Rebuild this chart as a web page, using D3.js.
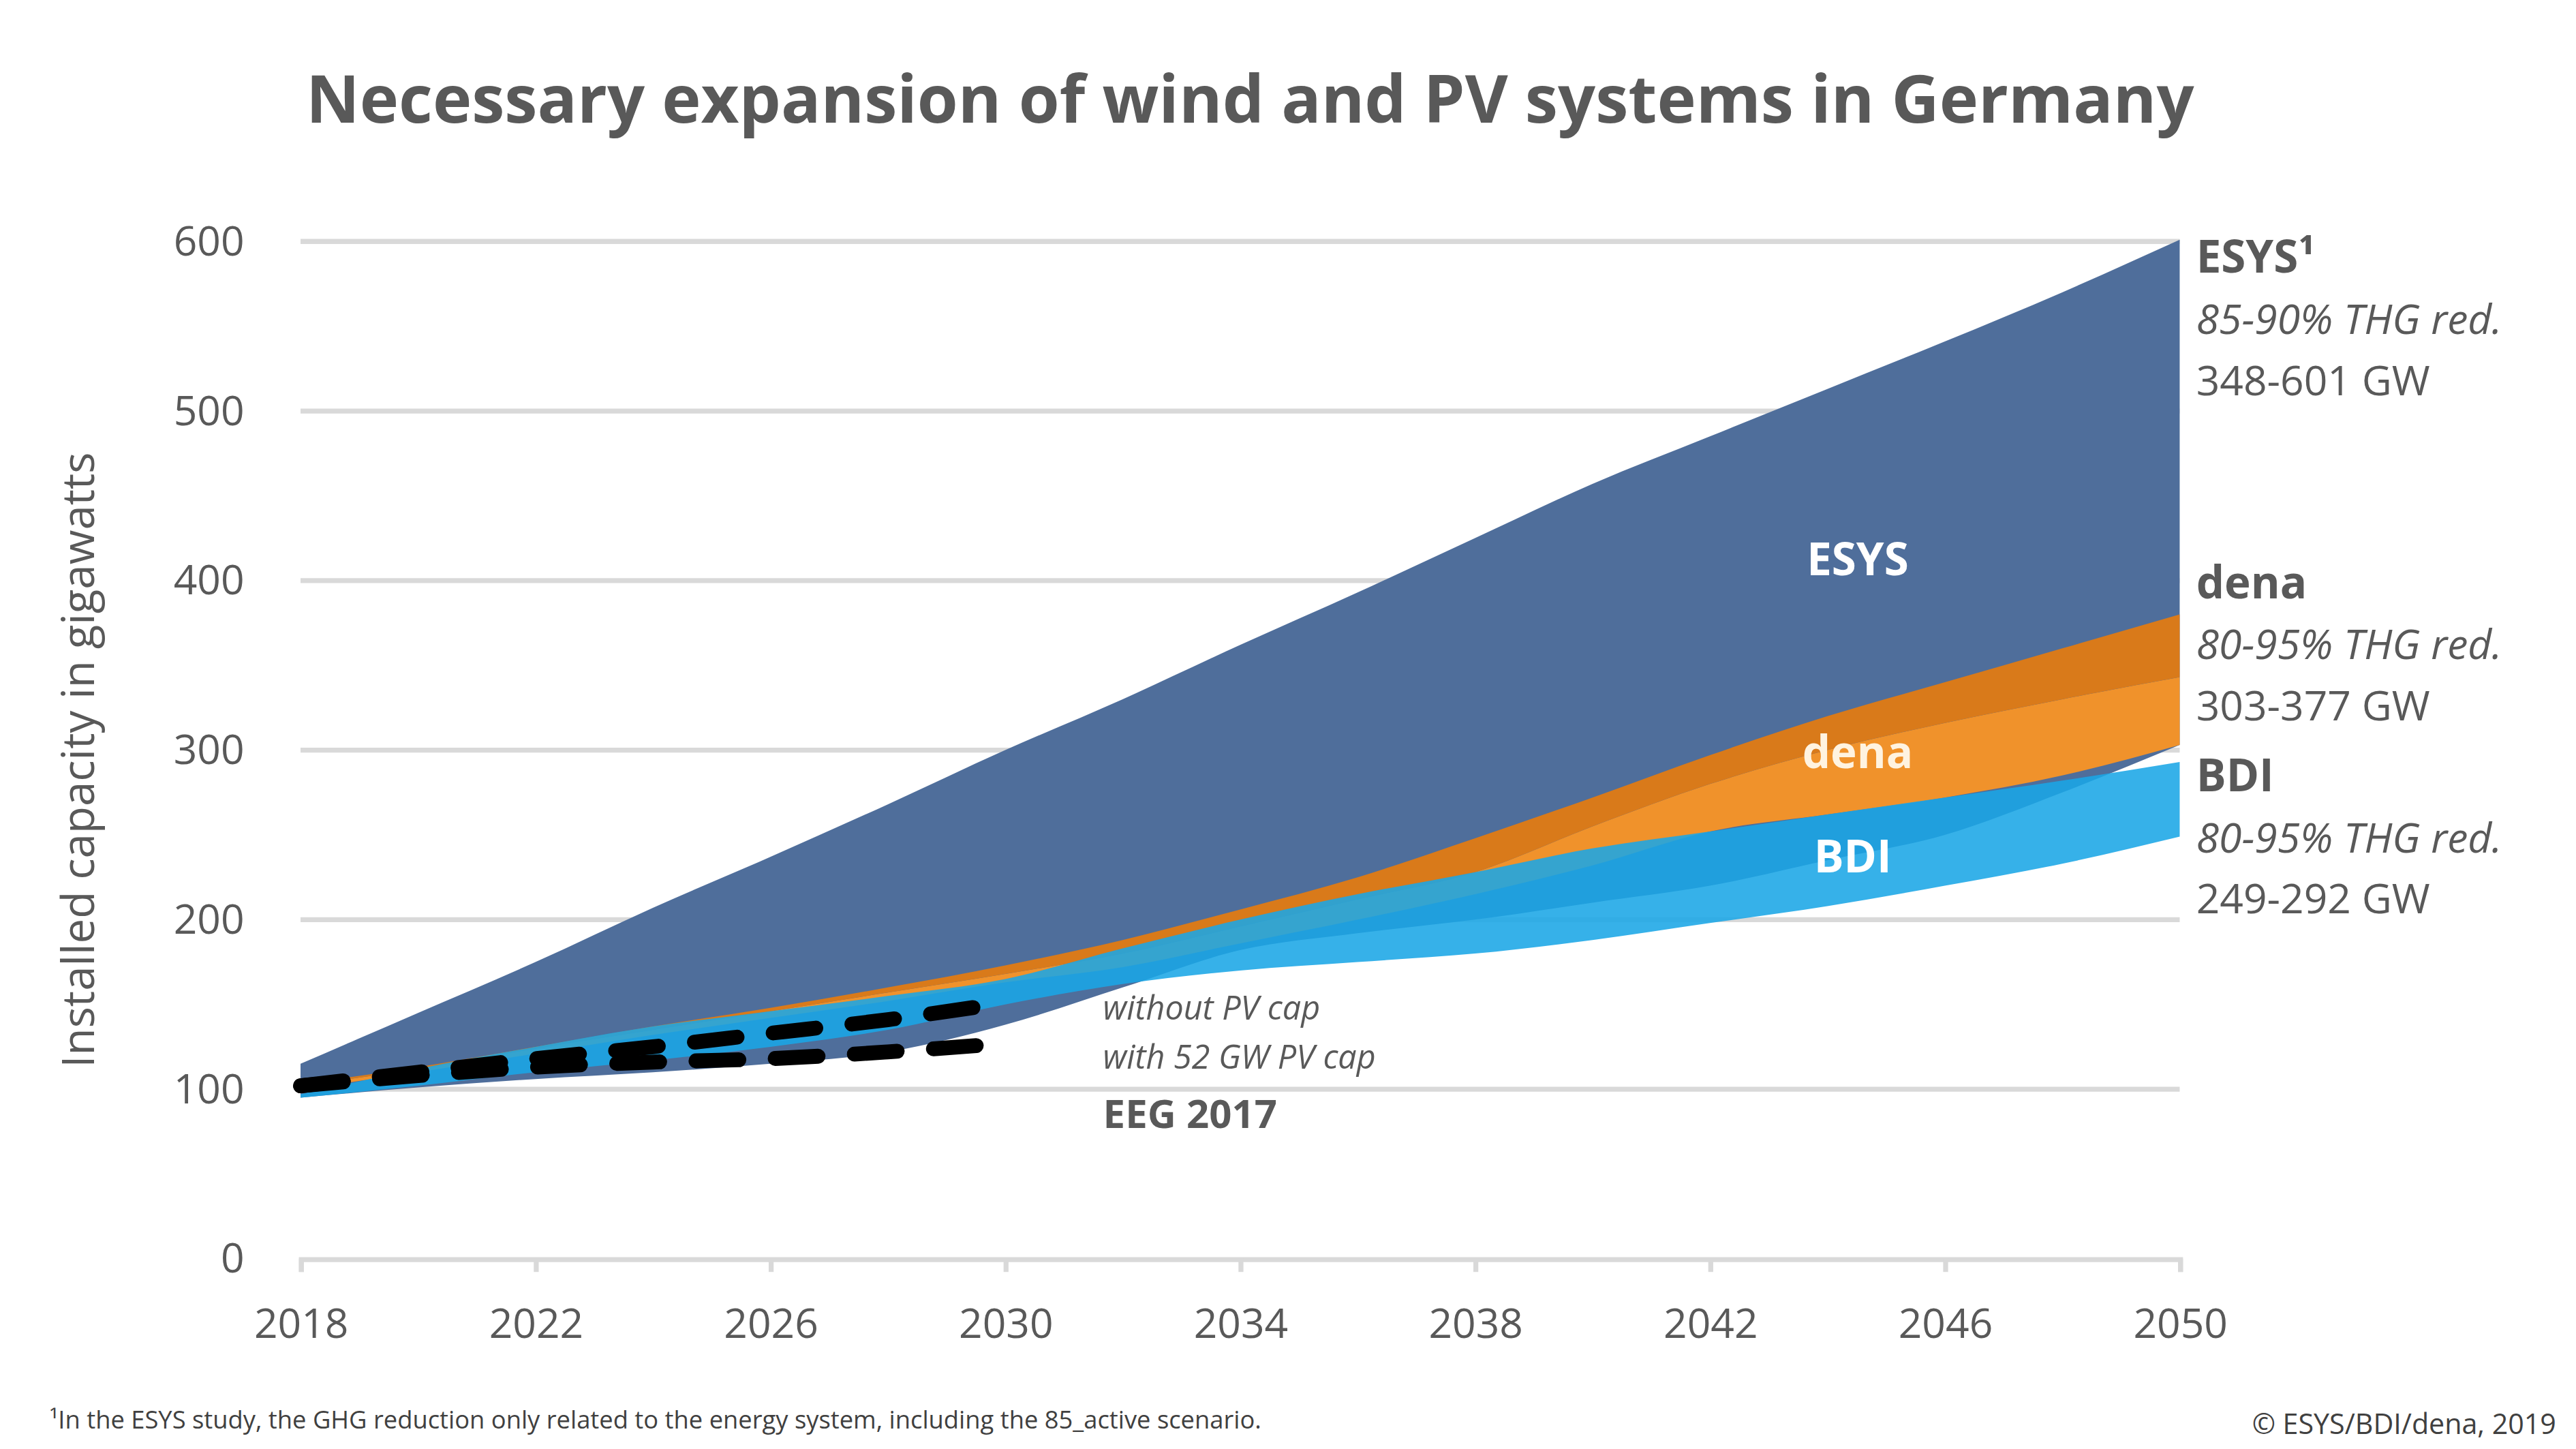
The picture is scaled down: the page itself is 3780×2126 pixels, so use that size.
<!DOCTYPE html>
<html><head><meta charset="utf-8">
<script src="https://cdn.jsdelivr.net/npm/d3@7"></script>
<style>body{margin:0;background:#fff}text{font-family:"Open Sans",sans-serif;fill:#595959}</style>
</head><body><svg id="c"></svg>
<script>
var years = [2018,2020,2022,2024,2026,2028,2030,2032,2034,2036,2038,2040,2042,2044,2046,2048,2050];
var esysHigh = [115,145,175,207,237,268,300,330,362,393,425,457,485,513,541,570,601];
var esysLow  = [95,101,106,110,115,122,138,160,182,192,200,210,220,235,250,275,303];
var bdiHigh  = [97,112,125,137,146,155,165,183,200,215,228,242,252,262,272,282,293];
var bdiLow   = [95,102,110,117,125,135,150,162,170,175,180,188,198,208,220,233,249];
var denaHigh = [103,113,125,137,148,160,173,188,206,225,248,272,297,320,340,360,380];
var denaMid  = [102,112,124,135,146,157,168,180,196,212,228,255,280,300,316,330,343];
var denaLow  = [100,110,121,132,142,152,163,172,186,200,215,232,252,262,272,285,303];
var eegYears = [2018,2020,2022,2024,2026,2028,2030];
var noCap    = [102,110,118,125,133,141,151];
var withCap  = [102,108,113,116,118,122,127];
var yTicks = [0,100,200,300,400,500,600];
var xTicks = [2018,2022,2026,2030,2034,2038,2042,2046,2050];

var W = 1560, H = 877;
var svg = d3.select("#c").attr("width", 3780).attr("height", 2126).attr("viewBox", "0 0 " + W + " " + H);
var x = d3.scaleLinear().domain([2018, 2050]).range([182, 1320]);
var y = d3.scaleLinear().domain([0, 600]).range([762, 146]);

svg.append("text").attr("x", 757).attr("y", 74).attr("text-anchor", "middle")
  .style("font-size", "40px").style("font-weight", "bold")
  .text("Necessary expansion of wind and PV systems in Germany");

// grid
svg.selectAll(".grid").data(yTicks.slice(1)).enter().append("line")
  .attr("x1", 182).attr("x2", 1320).attr("y1", d => y(d)).attr("y2", d => y(d))
  .style("stroke", "#d9d9d9").style("stroke-width", 3);

function band(lo, hi, col, op) {
  var a = d3.area().x((d, i) => x(years[i])).y0((d, i) => y(lo[i])).y1(d => y(d)).curve(d3.curveMonotoneX);
  svg.append("path").datum(hi).attr("d", a).style("fill", col).style("opacity", op);
}
band(esysLow, esysHigh, "#4f6e9b", 1);
band(denaLow, denaMid, "#f0922b", 1);
band(denaMid, denaHigh, "#d97a1a", 1);
band(bdiLow, bdiHigh, "#1aa6e6", 0.88);

function dash(vals) {
  var l = d3.line().x((d, i) => x(eegYears[i])).y(d => y(d)).curve(d3.curveMonotoneX);
  svg.append("path").datum(vals).attr("d", l).style("fill", "none").style("stroke", "#000")
    .style("stroke-width", 9).style("stroke-dasharray", "26,22").style("stroke-linecap", "round");
}
dash(noCap); dash(withCap);

// axes
var yAxis = svg.append("g").attr("transform", "translate(182,0)")
  .call(d3.axisLeft(y).tickValues(yTicks).tickSize(0).tickPadding(34));
yAxis.select(".domain").remove();
yAxis.selectAll("text").style("font-size", "25px");

var xAxis = svg.append("g").attr("transform", "translate(0,762)")
  .call(d3.axisBottom(x).tickValues(xTicks).tickFormat(d3.format("d")).tickSize(8).tickPadding(22));
xAxis.select(".domain").style("stroke", "#d9d9d9").style("stroke-width", 3);
xAxis.selectAll("line").style("stroke", "#d9d9d9").style("stroke-width", 3);
xAxis.selectAll("text").style("font-size", "25px");

svg.append("text").attr("transform", "translate(57,460) rotate(-90)").attr("text-anchor", "middle")
  .style("font-size", "27px").text("Installed capacity in gigawatts");

// inner labels
function lab(t, xx, yy, col) {
  svg.append("text").attr("x", xx).attr("y", yy).attr("text-anchor", "middle")
    .style("font-size", "27px").style("font-weight", "bold").style("fill", col).text(t);
}
lab("ESYS", 1125, 348, "#fff");
lab("dena", 1125, 465, "#fff3e0");
lab("BDI", 1122, 528, "#fff");

function side(lines, yy) {
  lines.forEach(function (l, i) {
    svg.append("text").attr("x", 1330).attr("y", yy + i * 37)
      .style("font-size", i == 0 ? "27px" : "25px").style("font-weight", i == 0 ? "bold" : "normal")
      .style("font-style", i == 1 ? "italic" : "normal").text(l);
  });
}
side(["ESYS\u00b9", "85-90% THG red.", "348-601 GW"], 165);
side(["dena", "80-95% THG red.", "303-377 GW"], 362);
side(["BDI", "80-95% THG red.", "249-292 GW"], 479);

svg.append("text").attr("x", 668).attr("y", 617).style("font-size", "20px").style("font-style", "italic").text("without PV cap");
svg.append("text").attr("x", 668).attr("y", 647).style("font-size", "20px").style("font-style", "italic").text("with 52 GW PV cap");
svg.append("text").attr("x", 668).attr("y", 683).style("font-size", "24px").style("font-weight", "bold").text("EEG 2017");

svg.append("text").attr("x", 30).attr("y", 865).style("font-size", "15px").style("fill", "#404040")
  .text("\u00b9In the ESYS study, the GHG reduction only related to the energy system, including the 85_active scenario.");
svg.append("text").attr("x", 1548).attr("y", 868).attr("text-anchor", "end")
  .style("font-size", "17px").style("fill", "#404040").text("\u00a9 ESYS/BDI/dena, 2019");
</script></body></html>
